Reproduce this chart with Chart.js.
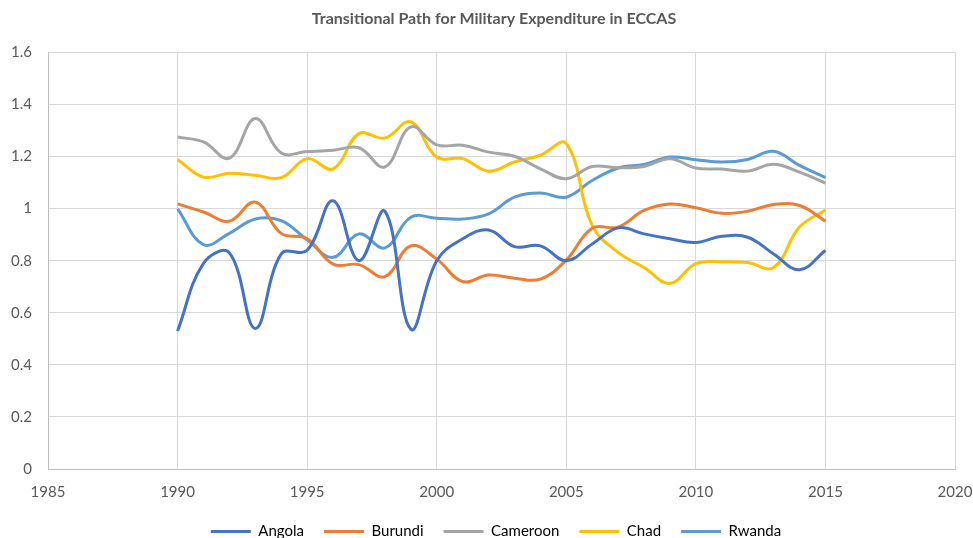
<!DOCTYPE html>
<html>
<head>
<meta charset="utf-8">
<title>Transitional Path for Military Expenditure in ECCAS</title>
<script src="https://cdn.jsdelivr.net/npm/chart.js@4.4.1/dist/chart.umd.min.js"></script>
<style>
    html, body { margin: 0; padding: 0; background: #ffffff; }
    #wrap { width: 973px; height: 538px; }
</style>
</head>
<body>
<div id="wrap"><canvas id="pathChart" width="973" height="538"></canvas></div>
<script>
const years = [1990, 1991, 1992, 1993, 1994, 1995, 1996, 1997, 1998, 1999, 2000, 2001, 2002,
    2003, 2004, 2005, 2006, 2007, 2008, 2009, 2010, 2011, 2012, 2013, 2014, 2015];

const angola = [0.53, 0.79, 0.83, 0.54, 0.826, 0.84, 1.03, 0.80, 0.99, 0.537, 0.80, 0.884, 0.918,
    0.854, 0.857, 0.80, 0.864, 0.926, 0.903, 0.884, 0.87, 0.894, 0.89, 0.826, 0.765, 0.839];
const burundi = [1.018, 0.987, 0.952, 1.025, 0.905, 0.884, 0.787, 0.785, 0.739, 0.857, 0.806, 0.72, 0.745,
    0.733, 0.729, 0.803, 0.925, 0.929, 0.993, 1.018, 1.003, 0.982, 0.99, 1.016, 1.012, 0.952];
const cameroon = [1.275, 1.256, 1.194, 1.346, 1.214, 1.219, 1.224, 1.234, 1.16, 1.314, 1.245, 1.243, 1.217,
    1.201, 1.153, 1.115, 1.162, 1.157, 1.162, 1.192, 1.156, 1.152, 1.144, 1.17, 1.14, 1.098];
const chad = [1.189, 1.121, 1.136, 1.128, 1.119, 1.192, 1.153, 1.288, 1.271, 1.333, 1.198, 1.192, 1.144,
    1.179, 1.205, 1.25, 0.935, 0.832, 0.774, 0.713, 0.789, 0.796, 0.793, 0.774, 0.929, 0.995];
const rwanda = [0.999, 0.862, 0.905, 0.96, 0.954, 0.88, 0.813, 0.903, 0.849, 0.967, 0.963, 0.96, 0.98,
    1.044, 1.06, 1.044, 1.108, 1.156, 1.17, 1.198, 1.188, 1.179, 1.189, 1.22, 1.166, 1.119];

const seriesNames = ['Angola', 'Burundi', 'Cameroon', 'Chad', 'Rwanda'];
const seriesValues = [angola, burundi, cameroon, chad, rwanda];
const seriesColors = ['#4472C4', '#ED7D31', '#A5A5A5', '#FFC000', '#5B9BD5'];

const textColor = '#595959';
const gridColor = '#D9D9D9';

Chart.defaults.font.family = 'Lato, "Open Sans", sans-serif';
Chart.defaults.color = textColor;

function buildDatasets() {
    return seriesNames.map((name, i) => ({
        label: name,
        data: years.map((yr, j) => ({ x: yr, y: seriesValues[i][j] })),
        borderColor: seriesColors[i],
        backgroundColor: seriesColors[i],
        borderWidth: 3,
        pointRadius: 0,
        tension: 0.4,
        fill: false
    }));
}

// nudge title and legend a bit to the right, like the Excel original
const shiftBlocks = {
    id: 'shiftBlocks',
    afterLayout(chart) {
        if (chart.titleBlock) {
            chart.titleBlock.left += 16.5;
            chart.titleBlock.right += 16.5;
        }
        if (chart.legend) {
            chart.legend.left += 18.5;
            chart.legend.right += 18.5;
        }
    }
};

const ctx = document.getElementById('pathChart').getContext('2d');
new Chart(ctx, {
    type: 'line',
    data: { datasets: buildDatasets() },
    plugins: [shiftBlocks],
    options: {
        responsive: false,
        animation: false,
        layout: { padding: { left: 0, right: 18, top: 0, bottom: -11 } },
        plugins: {
            title: {
                display: true,
                text: 'Transitional Path for Military Expenditure in ECCAS',
                color: textColor,
                font: { size: 16, weight: 'bold' },
                padding: { top: 8.9, bottom: 24.3 }
            },
            legend: {
                position: 'bottom',
                labels: {
                    color: textColor,
                    font: { size: 15 },
                    boxWidth: 40,
                    boxHeight: 3,
                    padding: 20,
                    generateLabels: (chart) => chart.data.datasets.map((ds, i) => ({
                        text: ds.label,
                        fillStyle: ds.borderColor,
                        strokeStyle: ds.borderColor,
                        lineWidth: 0,
                        datasetIndex: i
                    }))
                }
            },
            tooltip: { enabled: false }
        },
        scales: {
            x: {
                type: 'linear',
                min: 1985,
                max: 2020,
                afterFit: (scale) => {
                    scale.height = 35;
                    scale.paddingLeft = 0;
                    scale.paddingRight = 0;
                },
                ticks: {
                    stepSize: 5,
                    padding: 14,
                    font: { size: 15 },
                    color: textColor,
                    maxRotation: 0,
                    callback: (value) => String(value)
                },
                grid: { color: gridColor, drawTicks: false },
                border: { color: '#BFBFBF' }
            },
            y: {
                min: 0,
                max: 1.6,
                afterFit: (scale) => { scale.width = 48; },
                ticks: {
                    stepSize: 0.2,
                    padding: 16,
                    font: { size: 15 },
                    color: textColor,
                    callback: (value) => String(Math.round(value * 10) / 10)
                },
                grid: { color: gridColor, drawTicks: false },
                border: { color: '#BFBFBF' }
            }
        }
    }
});
</script>
</body>
</html>
